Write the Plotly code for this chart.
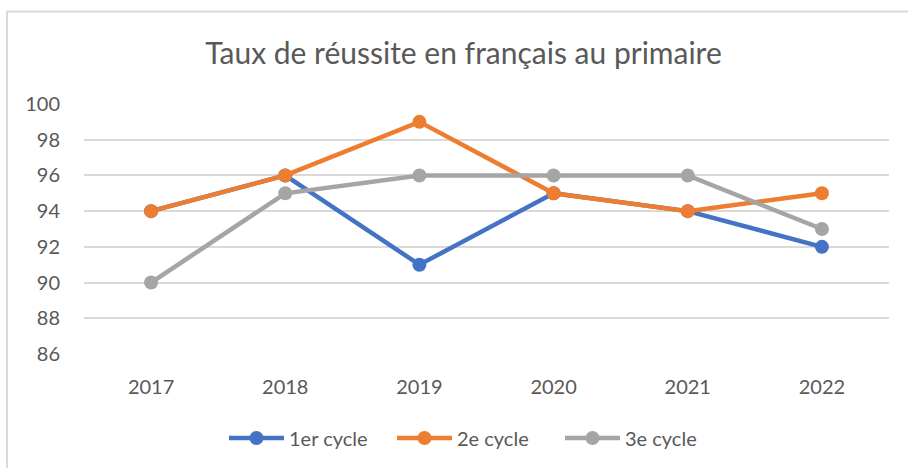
import plotly.graph_objects as go

years = ["2017", "2018", "2019", "2020", "2021", "2022"]
cycle1 = [94, 96, 91, 95, 94, 92]
cycle2 = [94, 96, 99, 95, 94, 95]
cycle3 = [90, 95, 96, 96, 96, 93]
names = ["1er cycle", "2e cycle", "3e cycle"]
colors = ["#4472C4", "#ED7D31", "#A5A5A5"]

fig = go.Figure()
for name, vals, col in zip(names, [cycle1, cycle2, cycle3], colors):
    fig.add_trace(go.Scatter(
        x=years, y=vals, name=name, mode="lines+markers",
        line=dict(color=col, width=4.5),
        marker=dict(color=col, size=14),
    ))

W, H = 908, 468
L, R, T, B = 84, 19, 104, 114
pw, ph = W - L - R, H - T - B

def px(x):
    return (x - L) / pw

def py(y):
    return (H - B - y) / ph

TXT = "#595959"
fig.update_layout(
    width=W, height=H,
    margin=dict(l=L, r=R, t=T, b=B, autoexpand=False),
    paper_bgcolor="white", plot_bgcolor="white",
    font=dict(family="Lato, sans-serif", color=TXT),
    title=dict(text="Taux de réussite en français au primaire",
               x=463.5 / W, xanchor="center", y=1 - 53 / H, yanchor="middle",
               font=dict(size=30, color=TXT)),
    xaxis=dict(type="category", range=[-0.5, 5.5], showgrid=False, zeroline=False,
               showline=False, ticks="", tickfont=dict(size=20, color=TXT),
               ticklabelstandoff=19),
    yaxis=dict(range=[86, 100], dtick=2, showgrid=True, gridcolor="#D9D9D9",
               gridwidth=1.5, zeroline=False, showline=False, ticks="",
               tickfont=dict(size=20, color=TXT), ticklabelstandoff=23),
    showlegend=True,
    legend=dict(orientation="h", x=476 / W, xref="container", xanchor="center",
                y=py(438), yanchor="middle",
                font=dict(size=20, color=TXT), itemwidth=55,
                entrywidth=98, entrywidthmode="pixels"),
    shapes=[
        dict(type="line", xref="paper", yref="paper",
             x0=px(6), x1=px(908), y0=py(11.5), y1=py(11.5),
             line=dict(color="#D9D9D9", width=2), layer="below"),
        dict(type="line", xref="paper", yref="paper",
             x0=px(7), x1=px(7), y0=py(11.5), y1=py(468),
             line=dict(color="#D9D9D9", width=2), layer="below"),
    ],
)

fig.write_html("out.html", config={"displayModeBar": False},
               post_script="document.body.style.margin='0';")
